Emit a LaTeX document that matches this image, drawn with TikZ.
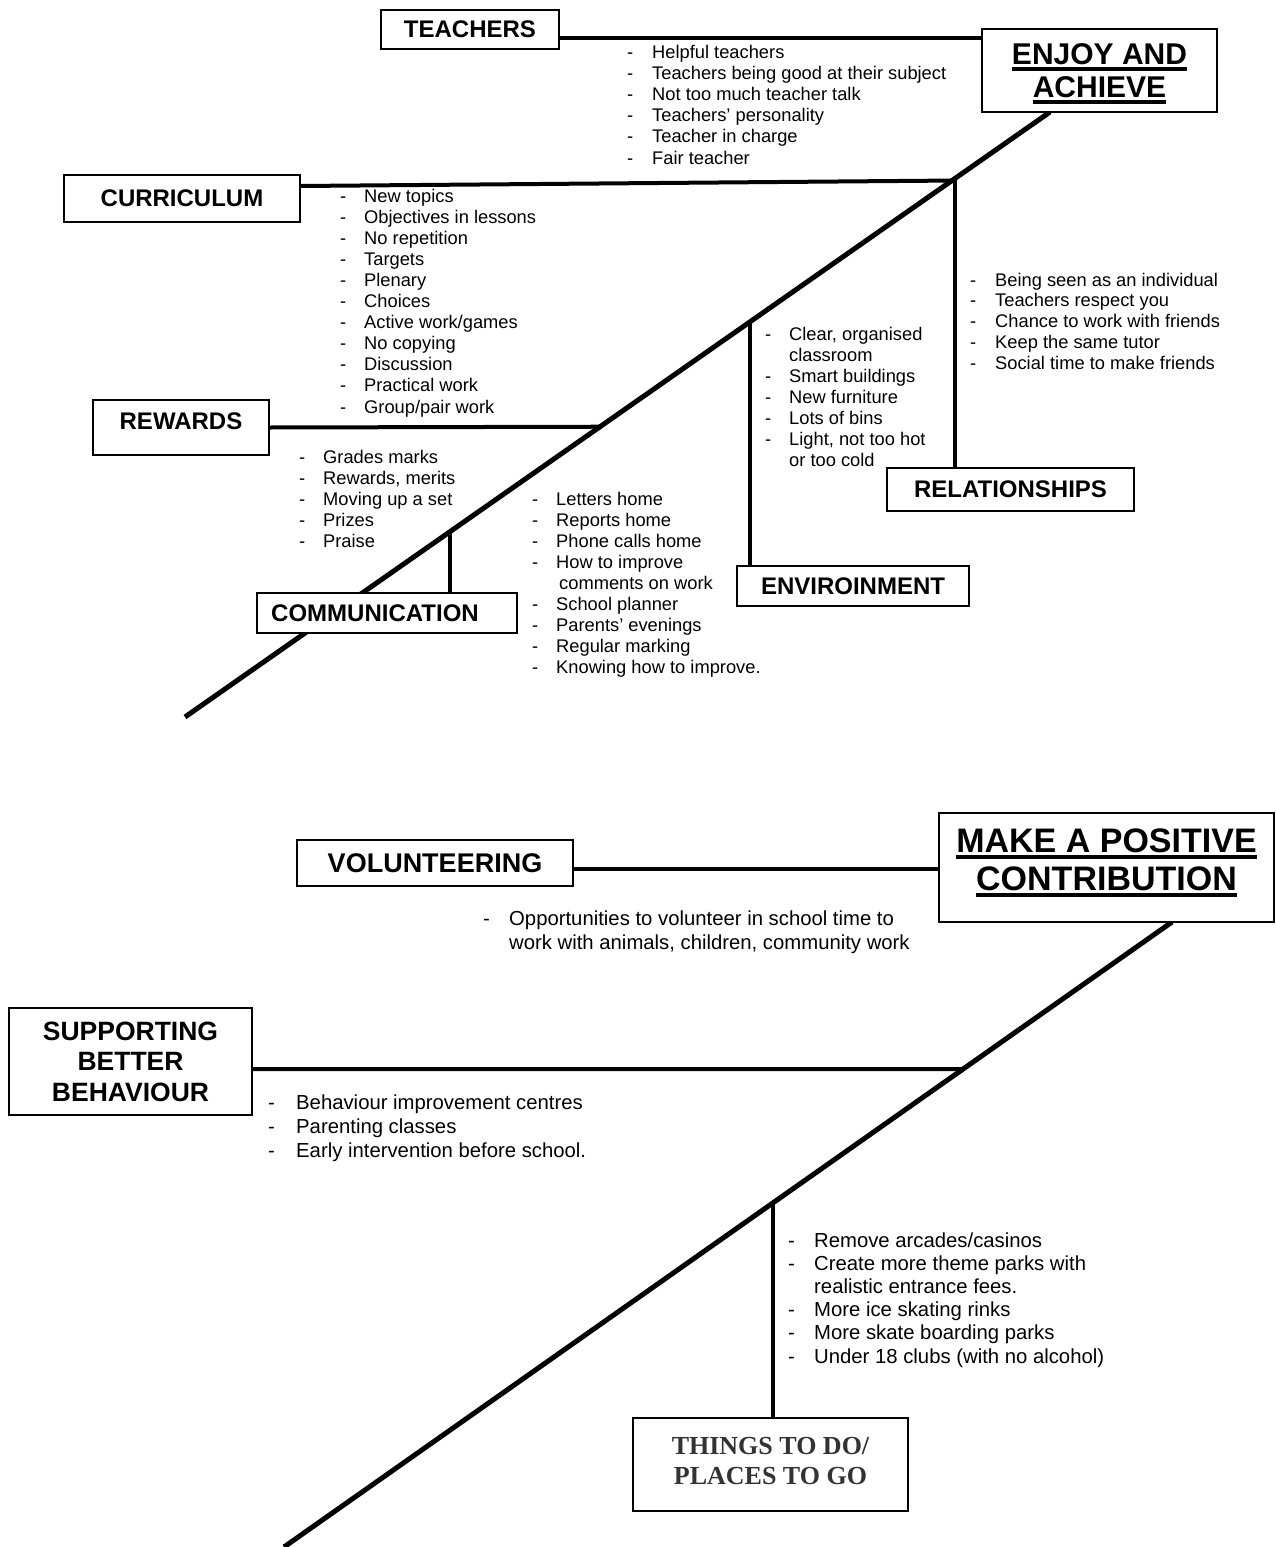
\documentclass[tikz,border=0pt]{standalone}
\usepackage{fontspec}
\setmainfont{Liberation Sans}
\newfontfamily\serifbf{Liberation Serif}
\usetikzlibrary{backgrounds}
\newsavebox\ubox
\newcommand\U[1]{\sbox\ubox{#1}\rlap{\rule[-6.5pt]{\wd\ubox}{4pt}}\usebox\ubox}
\newlength\dg
\newcommand\D{\makebox[\dg][l]{-}}
\newcommand\N{\hspace*{\dg}}
\tikzset{
  box/.style={draw, line width=1.8pt, fill=white, inner sep=0pt, outer sep=0pt, align=center,
    font=\bfseries\fontsize{24}{28}\selectfont},
  lst/.style={inner sep=0pt, anchor=base west, font=\fontsize{18.3}{22}\selectfont},
  lstb/.style={inner sep=0pt, anchor=base west, font=\fontsize{20.3}{24}\selectfont},
  spine/.style={line width=5pt},
  conn/.style={line width=4pt},
  vconn/.style={line width=3.5pt}
}
\begin{document}
\begin{tikzpicture}[x=1pt,y=-1pt]
\useasboundingbox (0,0) rectangle (1276,1547);
% ---------- top diagram boxes
\node[box, minimum width=178pt, minimum height=39pt] (teachers) at (470,29.5) {TEACHERS};
\node[box, minimum width=235pt, minimum height=83pt, font=\bfseries\fontsize{30}{33}\selectfont] (enjoy) at (1099.5,70.5) {\rule{0pt}{27pt}\U{ENJOY AND}\\\U{ACHIEVE}};
\node[box, minimum width=236pt, minimum height=47pt] (curric) at (182,198.5) {CURRICULUM};
\node[box, minimum width=176pt, minimum height=55pt, text depth=12pt] (rewards) at (181,427.5) {REWARDS};
\node[box, minimum width=247pt, minimum height=43pt] (relat) at (1010.5,489.5) {RELATIONSHIPS};
\node[box, minimum width=232pt, minimum height=40pt] (envir) at (853,586) {ENVIROINMENT};
\node[box, minimum width=260pt, minimum height=40pt] (commun) at (387,613) {COMMUNICATION\hspace*{24pt}};
% ---------- bottom diagram boxes
\node[box, minimum width=276pt, minimum height=46pt, font=\bfseries\fontsize{27}{30}\selectfont] (volunt) at (435,863) {VOLUNTEERING};
\node[box, minimum width=335pt, minimum height=109pt, font=\bfseries\fontsize{34}{38}\selectfont] (mpc) at (1106.5,867.5) {\U{MAKE A POSITIVE}\\\U{CONTRIBUTION}\rule[-15pt]{0pt}{15pt}};
\node[box, minimum width=243pt, minimum height=107pt, font=\bfseries\fontsize{26.5}{30.5}\selectfont] (support) at (130.5,1061.5) {SUPPORTING\\BETTER\\BEHAVIOUR};
\node[box, minimum width=275pt, minimum height=93pt, text=black!80, font=\serifbf\bfseries\fontsize{26}{30}\selectfont] (things) at (770.5,1464.5) {THINGS TO DO/\\PLACES TO GO\rule[-8pt]{0pt}{8pt}};
% ---------- connectors
\begin{pgfonlayer}{background}
\coordinate (xA) at (1050,0);
\coordinate (tEnd) at (185,717);
\draw[spine] (enjoy.south -| xA) -- (tEnd)
  coordinate[pos=.1133] (jC) coordinate[pos=.1098] (jR) coordinate[pos=.3468] (jE)
  coordinate[pos=.5202] (jW) coordinate[pos=.6936] (jM);
\draw[conn] ([yshift=-8.5pt]teachers.east) -- ([yshift=-8.5pt]teachers.east -| enjoy.west);
\draw[conn] ([yshift=12.5pt]curric.east) -- (jC);
\draw[conn] (rewards.east) -- (jW);
\draw[conn] (jR) -- (relat.north -| jR);
\draw[vconn] (jE) -- (envir.north -| jE);
\draw[vconn] (jM) -- (commun.north -| jM);
\coordinate (xB) at (1172,0);
\coordinate (bEnd) at (284,1547);
\draw[spine] (mpc.south -| xB) -- (bEnd) coordinate[pos=.2354] (jS) coordinate[pos=.4493] (jT);
\draw[conn] ([yshift=-6pt]volunt.east) -- ([yshift=-6pt]volunt.east -| mpc.west);
\draw[conn] ([yshift=-7.5pt]support.east) -- (jS);
\draw[conn] (jT) -- (things.north -| jT);
\end{pgfonlayer}
% ---------- lists (top)
\setlength\dg{25pt}
\foreach \t [count=\i from 0] in {\D Helpful teachers, \D Teachers being good at their subject, \D Not too much teacher talk, \D Teachers' personality, \D Teacher in charge, \D Fair teacher}
  \node[lst] (tch\i) at (627,58+21.2*\i) {\t};
\setlength\dg{24pt}
\foreach \t [count=\i from 0] in {\D New topics, \D Objectives in lessons, \D No repetition, \D Targets, \D Plenary, \D Choices, \D Active work/games, \D No copying, \D Discussion, \D Practical work, \D Group/pair work}
  \node[lst] (cur\i) at (340,202+21.1*\i) {\t};
\setlength\dg{25pt}
\foreach \t [count=\i from 0] in {\D Being seen as an individual, \D Teachers respect you, \D Chance to work with friends, \D Keep the same tutor, \D Social time to make friends}
  \node[lst] (rel\i) at (970,286+20.8*\i) {\t};
\setlength\dg{24pt}
\foreach \t [count=\i from 0] in {{\D Clear, organised}, \N classroom, \D Smart buildings, \D New furniture, \D Lots of bins, {\D Light, not too hot}, \N or too cold}
  \node[lst] (env\i) at (765,340+21*\i) {\t};
\foreach \t [count=\i from 0] in {\D Grades marks, {\D Rewards, merits}, \D Moving up a set, \D Prizes, \D Praise}
  \node[lst] (rew\i) at (299,463+21*\i) {\t};
\foreach \t [count=\i from 0] in {\D Letters home, \D Reports home, \D Phone calls home, \D How to improve, \N\hspace*{3pt}comments on work, \D School planner, \D Parents' evenings, \D Regular marking, \D Knowing how to improve.}
  \node[lst] (com\i) at (532,505+21.1*\i) {\t};
% ---------- lists (bottom)
\setlength\dg{26pt}
\foreach \t [count=\i from 0] in {\D Opportunities to volunteer in school time to, {\N work with animals, children, community work}}
  \node[lstb] (vol\i) at (483,925+24*\i) {\t};
\setlength\dg{28pt}
\foreach \t [count=\i from 0] in {\D Behaviour improvement centres, \D Parenting classes, \D Early intervention before school.}
  \node[lstb] (beh\i) at (268,1109+24*\i) {\t};
\setlength\dg{26pt}
\foreach \t [count=\i from 0] in {\D Remove arcades/casinos, \D Create more theme parks with, \N realistic entrance fees., \D More ice skating rinks, \D More skate boarding parks, \D Under 18 clubs (with no alcohol)}
  \node[lstb] (thg\i) at (788,1247+23.2*\i) {\t};
\end{tikzpicture}
\end{document}
